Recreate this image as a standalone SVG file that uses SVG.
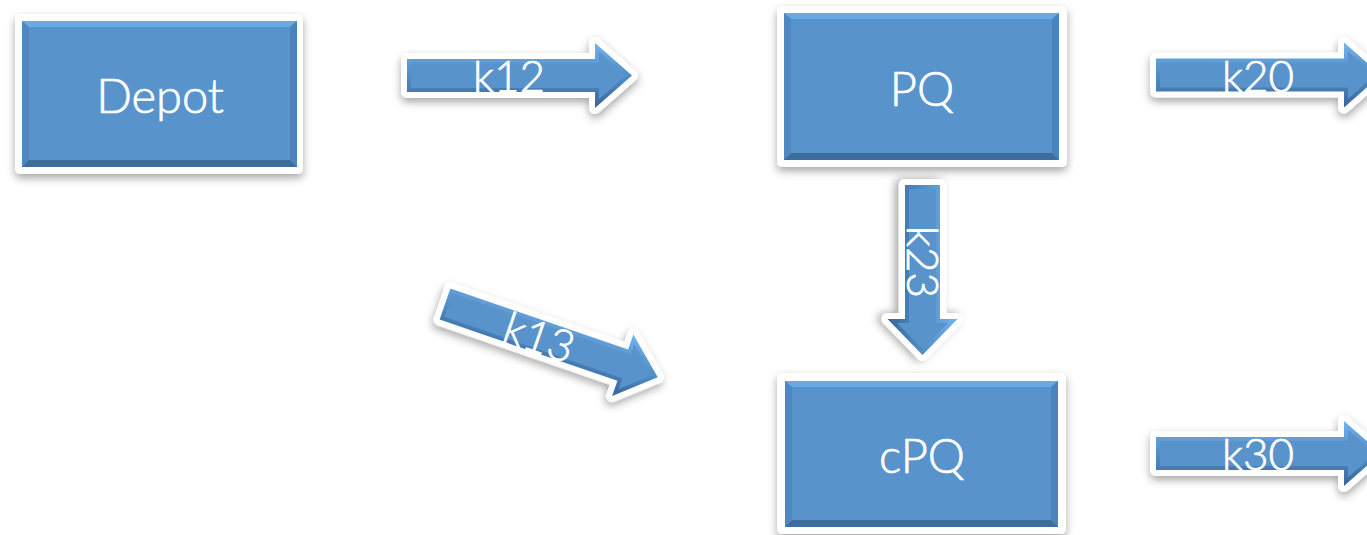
<svg xmlns="http://www.w3.org/2000/svg" xmlns:xlink="http://www.w3.org/1999/xlink" width="1367" height="535" viewBox="0 0 1367 535">
<defs>
<filter id="sh" x="-20%" y="-20%" width="140%" height="150%">
<feDropShadow dx="0" dy="4" stdDeviation="4" flood-color="#000" flood-opacity="0.35"/>
</filter>
<linearGradient id="ag" x1="0" y1="0" x2="0" y2="1">
<stop offset="0" stop-color="#72B3EE"/>
<stop offset="0.35" stop-color="#5C98D2"/>
<stop offset="0.65" stop-color="#4A82BA"/>
<stop offset="1" stop-color="#386595"/>
</linearGradient>
<path id="ah" d="M0,-16.5H188V-32.5L225,0L188,32.5V16.5H0Z"/>
<path id="ahi" d="M4,-12.5H192V-23.7L218.9,0L192,23.7V12.5H4Z"/>
<path id="vah" d="M0,-17.5H134V-35L170,0L134,35V17.5H0Z"/>
<path id="vahi" d="M4,-13.5H138V-25.5L164.3,0L138,25.5V13.5H4Z"/>
<g id="arrowH">
<use xlink:href="#ah" class="halo"/>
<use xlink:href="#ah" fill="url(#ag)"/>
<use xlink:href="#ahi" class="face"/>
</g>
</defs>
<style>
.halo{fill:#fff;stroke:#fff;stroke-width:12;stroke-linejoin:round;filter:url(#sh)}
.boxhalo{fill:#fff;filter:url(#sh)}
.face{fill:#5893CC}
.bt{fill:#68AAE6}
.bl{fill:#4F88C1}
.br{fill:#4B83BB}
.bb{fill:#3D6C9D}
.lbl{font-family:Lato,"Open Sans","Liberation Sans",sans-serif;font-weight:300;fill:#fff;stroke:#fff;stroke-width:0.7;text-anchor:middle}
.nl{font-size:47px}
.al{font-size:44px}
</style>
<rect width="1367" height="535" fill="#fff"/>

<g id="connectors">
<g id="k12" transform="translate(407,75.5)">
<use xlink:href="#arrowH"/>
<text class="lbl al" x="102" y="16.5">k12</text>
</g>
<g id="k20" transform="translate(1156,75)">
<use xlink:href="#arrowH"/>
<text class="lbl al" x="102" y="16.5">k20</text>
</g>
<g id="k30" transform="translate(1156,453.5)">
<use xlink:href="#arrowH"/>
<text class="lbl al" x="102" y="16.5">k30</text>
</g>
<g id="k13" transform="translate(445,304) rotate(19)">
<use xlink:href="#arrowH"/>
<text class="lbl al" x="100" y="16.5">k13</text>
</g>
<g id="k23" transform="translate(922.5,185) rotate(90)">
<use xlink:href="#vah" class="halo"/>
<use xlink:href="#vah" fill="url(#ag)"/>
<use xlink:href="#vahi" class="face"/>
<text class="lbl al" x="77" y="16">k23</text>
</g>
</g>

<g id="depot">
<rect x="15" y="14" width="288" height="160" rx="5" class="boxhalo"/>
<rect x="22" y="21" width="275" height="146" class="face"/>
<polygon class="bt" points="22,21 297,21 290,27 29,27"/>
<polygon class="bl" points="22,21 29,27 29,160 22,167"/>
<polygon class="br" points="297,21 297,167 290,160 290,27"/>
<polygon class="bb" points="22,167 29,160 290,160 297,167"/>
<text class="lbl nl" x="160" y="113">Depot</text>
</g>

<g id="pq">
<rect x="777" y="6" width="290" height="161" rx="5" class="boxhalo"/>
<rect x="784" y="13" width="275" height="147" class="face"/>
<polygon class="bt" points="784,13 1059,13 1052,19 791,19"/>
<polygon class="bl" points="784,13 791,19 791,153 784,160"/>
<polygon class="br" points="1059,13 1059,160 1052,153 1052,19"/>
<polygon class="bb" points="784,160 791,153 1052,153 1059,160"/>
<text class="lbl nl" x="922" y="106">PQ</text>
</g>

<g id="cpq">
<rect x="777" y="373" width="289" height="161" rx="5" class="boxhalo"/>
<rect x="785" y="381" width="273" height="146" class="face"/>
<polygon class="bt" points="785,381 1058,381 1051,387 792,387"/>
<polygon class="bl" points="785,381 792,387 792,520 785,527"/>
<polygon class="br" points="1058,381 1058,527 1051,520 1051,387"/>
<polygon class="bb" points="785,527 792,520 1051,520 1058,527"/>
<text class="lbl nl" x="922" y="473">cPQ</text>
</g>
</svg>
